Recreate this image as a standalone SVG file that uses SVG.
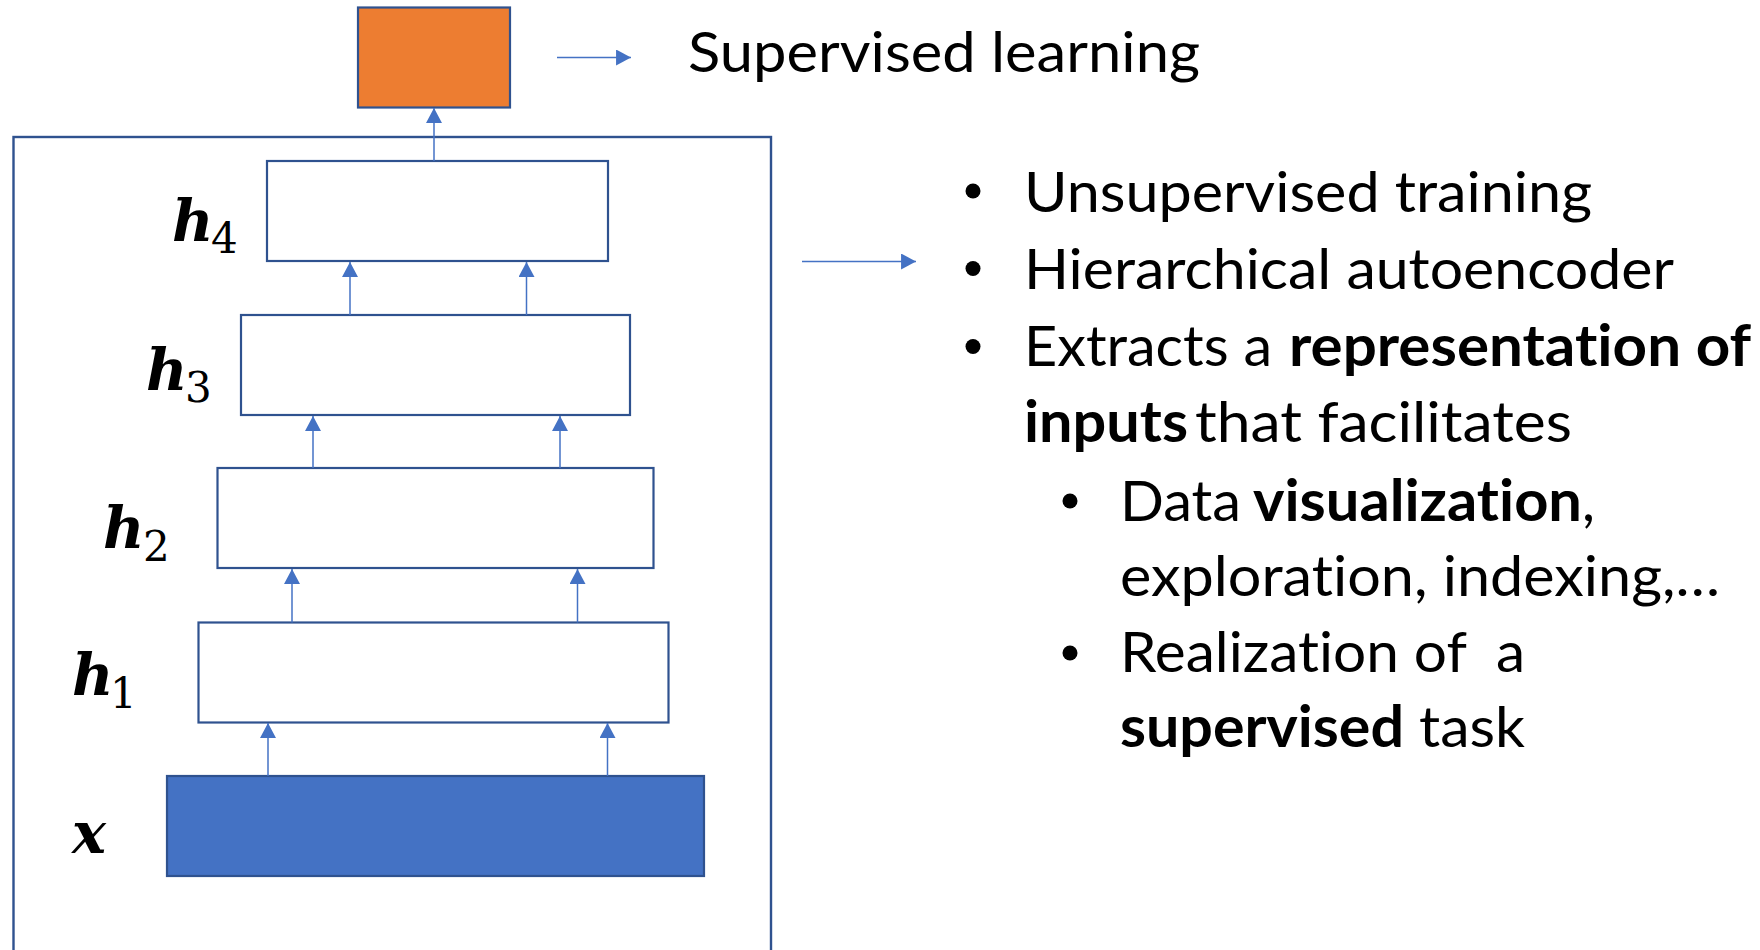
<svg xmlns="http://www.w3.org/2000/svg" width="1760" height="950" viewBox="0 0 1760 950">
<style>
.box{fill:#FFFFFF;stroke:#2F528F;stroke-width:2.2}
.frame{fill:none;stroke:#2F528F;stroke-width:2.4}
.arr{stroke:#4472C4;stroke-width:1.5;fill:none;marker-end:url(#ah)}
.t{font-family:Lato,"Open Sans",sans-serif;font-size:57px;fill:#000000;font-variant-ligatures:none}
.b{font-weight:700}
.lv{font-family:"DejaVu Serif",serif;font-weight:bold;font-style:italic;font-size:57px;fill:#000000}
.sub{font-family:"DejaVu Serif",serif;font-size:42px;fill:#000000}
.dot{fill:#000000}
</style>
<defs>
<marker id="ah" markerUnits="userSpaceOnUse" markerWidth="16" markerHeight="16" viewBox="0 0 14 15" refX="14" refY="7.5" orient="auto">
<path d="M0,0 L14,7.5 L0,15 Z" fill="#4472C4"/>
</marker>
</defs>
<rect width="1760" height="950" fill="#FFFFFF"/>
<rect id="container" class="frame" x="13.5" y="137" width="757.5" height="900"/>
<g id="output"><rect x="358" y="7.5" width="152" height="100" fill="#ED7D31" stroke="#2F528F" stroke-width="2.2"/></g>
<g id="h4"><rect class="box" x="267" y="161" width="341" height="100"/>
<text class="lv" x="172" y="241">h</text><text class="sub" x="211" y="253">4</text></g>
<g id="h3"><rect class="box" x="241" y="315" width="389" height="100"/>
<text class="lv" x="146" y="390">h</text><text class="sub" x="185" y="402">3</text></g>
<g id="h2"><rect class="box" x="217.5" y="468" width="436" height="100"/>
<text class="lv" x="103" y="548">h</text><text class="sub" x="143" y="561">2</text></g>
<g id="h1"><rect class="box" x="198.5" y="622.5" width="470" height="100"/>
<text class="lv" x="72" y="695">h</text><text class="sub" x="110" y="708">1</text></g>
<g id="x"><rect x="167" y="776" width="537" height="100" fill="#4472C4" stroke="#2F528F" stroke-width="2.2"/>
<text class="lv" x="72" y="853">x</text></g>
<g id="connectors">
<line class="arr" x1="434" y1="161" x2="434" y2="108"/>
<line class="arr" x1="350" y1="315" x2="350" y2="262"/>
<line class="arr" x1="526.5" y1="315" x2="526.5" y2="262"/>
<line class="arr" x1="313" y1="468" x2="313" y2="416"/>
<line class="arr" x1="560" y1="468" x2="560" y2="416"/>
<line class="arr" x1="292" y1="622.5" x2="292" y2="569"/>
<line class="arr" x1="577.5" y1="622.5" x2="577.5" y2="569"/>
<line class="arr" x1="268" y1="776" x2="268" y2="723"/>
<line class="arr" x1="607.5" y1="776" x2="607.5" y2="723"/>
<line class="arr" x1="557" y1="57.5" x2="631" y2="57.5"/>
<line class="arr" x1="802" y1="261.5" x2="916" y2="261.5"/>
</g>
<g id="supervised-label">
<text class="t" x="688" y="72" textLength="512" lengthAdjust="spacingAndGlyphs">Supervised learning</text>
</g>
<g id="bullets">
<circle class="dot" cx="973" cy="191" r="7.5"/>
<text class="t" x="1024" y="212" textLength="568" lengthAdjust="spacingAndGlyphs">Unsupervised training</text>
<circle class="dot" cx="973" cy="268.5" r="7.5"/>
<text class="t" x="1024" y="288.5" textLength="650" lengthAdjust="spacingAndGlyphs">Hierarchical autoencoder</text>
<circle class="dot" cx="973" cy="346.5" r="7.5"/>
<text class="t" x="1024" y="366" textLength="248" lengthAdjust="spacingAndGlyphs">Extracts a</text>
<text class="t b" x="1289" y="366" textLength="462" lengthAdjust="spacingAndGlyphs">representation of</text>
<text class="t b" x="1024" y="442" textLength="164" lengthAdjust="spacingAndGlyphs">inputs</text>
<text class="t" x="1195" y="442" textLength="377" lengthAdjust="spacingAndGlyphs">that facilitates</text>
<circle class="dot" cx="1070" cy="501" r="7.5"/>
<text class="t" x="1120" y="520.5" textLength="121" lengthAdjust="spacingAndGlyphs">Data</text>
<text class="t b" x="1253" y="520.5" textLength="329" lengthAdjust="spacingAndGlyphs">visualization</text>
<text class="t" x="1582" y="520.5">,</text>
<text class="t" x="1120" y="595.5" textLength="600" lengthAdjust="spacingAndGlyphs">exploration, indexing,…</text>
<circle class="dot" cx="1070" cy="653" r="7.5"/>
<text class="t" x="1120" y="672" textLength="405" lengthAdjust="spacingAndGlyphs" xml:space="preserve">Realization of  a</text>
<text class="t b" x="1120" y="747" textLength="284" lengthAdjust="spacingAndGlyphs">supervised</text>
<text class="t" x="1419" y="747" textLength="106" lengthAdjust="spacingAndGlyphs">task</text>
</g>
</svg>
